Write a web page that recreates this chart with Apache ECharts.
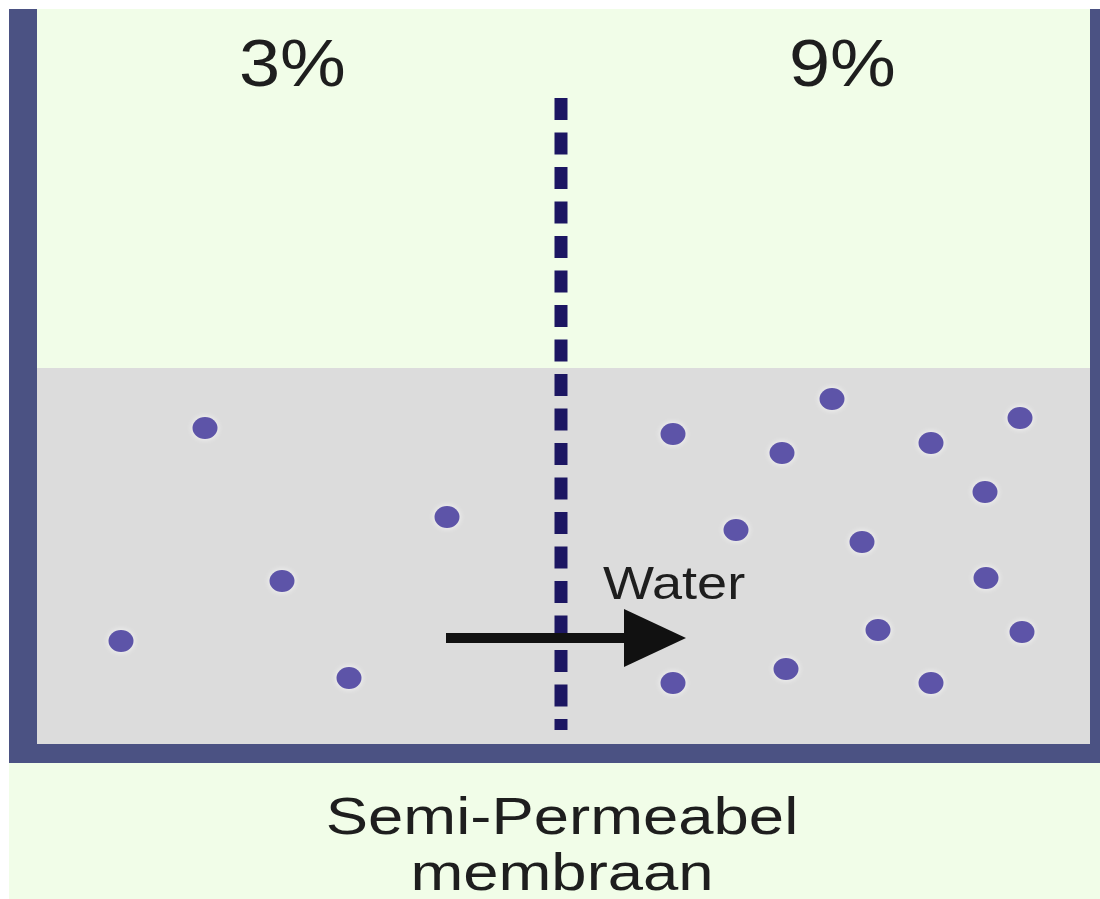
<!DOCTYPE html>
<html><head><meta charset="utf-8">
<script src="https://cdn.jsdelivr.net/npm/echarts@6/dist/echarts.min.js"></script>
<style>html,body{margin:0;padding:0;background:#fff}#c{width:1100px;height:899px}</style>
</head><body><div id="c"></div>
<script>
// Diagram values (in diagram units, x 0..1100, y 0..899 from top)
const leftSolute = [[205,428],[447,517],[282,581],[121,641],[349,678]];
const rightSolute = [[673,434],[782,453],[832,399],[931,443],[1020,418],[985,492],[736,530],[862,542],[986,578],[878,630],[1022,632],[673,683],[786,669],[931,683]];
const membrane = [[561,98],[561,730]];
const waterArrow = [[446,638],[686,638]];
const waterLevel = 368;
const concentrations = ['3%','9%'];
const labels = ['Water','Semi-Permeabel','membraan'];

const chart = echarts.init(document.getElementById('c'));
const ax = {show:false};
const FONT = '"Liberation Sans", Arial, sans-serif';
// x, baseline y, font size, horizontal stretch
function txt(text, x, base, size, sx, align){
  return {type:'text', x:x, y:base - 0.83*size, scaleX:sx, scaleY:1, originX:0, originY:0, z:10,
    style:{text:text, x:0, y:0, font:size+'px '+FONT, fill:'#1e1e1e', textAlign:align||'left', textVerticalAlign:'top'}};
}
chart.setOption({
  animation:false,
  backgroundColor:'#f1fde8',
  grid:{left:0,right:0,top:0,bottom:0},
  xAxis:Object.assign({type:'value',min:0,max:1100},ax),
  yAxis:Object.assign({type:'value',min:0,max:899,inverse:true},ax),
  series:[
    {type:'custom',silent:true,z:1,data:[[0]],renderItem:function(p,api){
      const c=(x,y)=>api.coord([x,y]);
      const r=(a,b,fill)=>({type:'rect',shape:{x:a[0],y:a[1],width:b[0]-a[0],height:b[1]-a[1]},style:{fill:fill}});
      return {type:'group',children:[
        r(c(0,0),c(1100,9),'#ffffff'),
        r(c(0,0),c(9,899),'#ffffff'),
        r(c(37,waterLevel),c(1090,744),'#dcdcdc'),
        r(c(9,9),c(37,763),'#4b5283'),
        r(c(1090,9),c(1100,763),'#4b5283'),
        r(c(9,744),c(1100,763),'#4b5283')
      ]};
    }},
    {type:'line',z:3,data:membrane,symbol:'none',lineStyle:{color:'#1c1662',width:13,type:[22,12.5]}},
    {type:'custom',z:4,silent:true,data:[[0]],renderItem:function(p,api){
      const a=api.coord(waterArrow[0]), b=api.coord(waterArrow[1]);
      const headLen=62, half=29;
      return {type:'group',children:[
        {type:'rect',shape:{x:a[0],y:a[1]-5,width:b[0]-a[0]-headLen+4,height:10},style:{fill:'#111111'}},
        {type:'polygon',shape:{points:[[b[0]-headLen,b[1]-half],[b[0],b[1]],[b[0]-headLen,b[1]+half]]},style:{fill:'#111111'}}
      ]};
    }},
    {type:'scatter',z:5,data:leftSolute.concat(rightSolute),symbol:'circle',symbolSize:[25,22],
      itemStyle:{color:'#5d54a8',opacity:1,shadowColor:'rgba(255,255,255,0.8)',shadowBlur:6}}
  ],
  graphic:[
    txt(concentrations[0],239,90,66,1.12),
    txt(concentrations[1],789,90,66,1.12),
    txt(labels[0],603,602,47,1.15),
    txt(labels[1],562,837,52,1.22,'center'),
    txt(labels[2],562,893,52,1.22,'center')
  ]
});
</script></body></html>
